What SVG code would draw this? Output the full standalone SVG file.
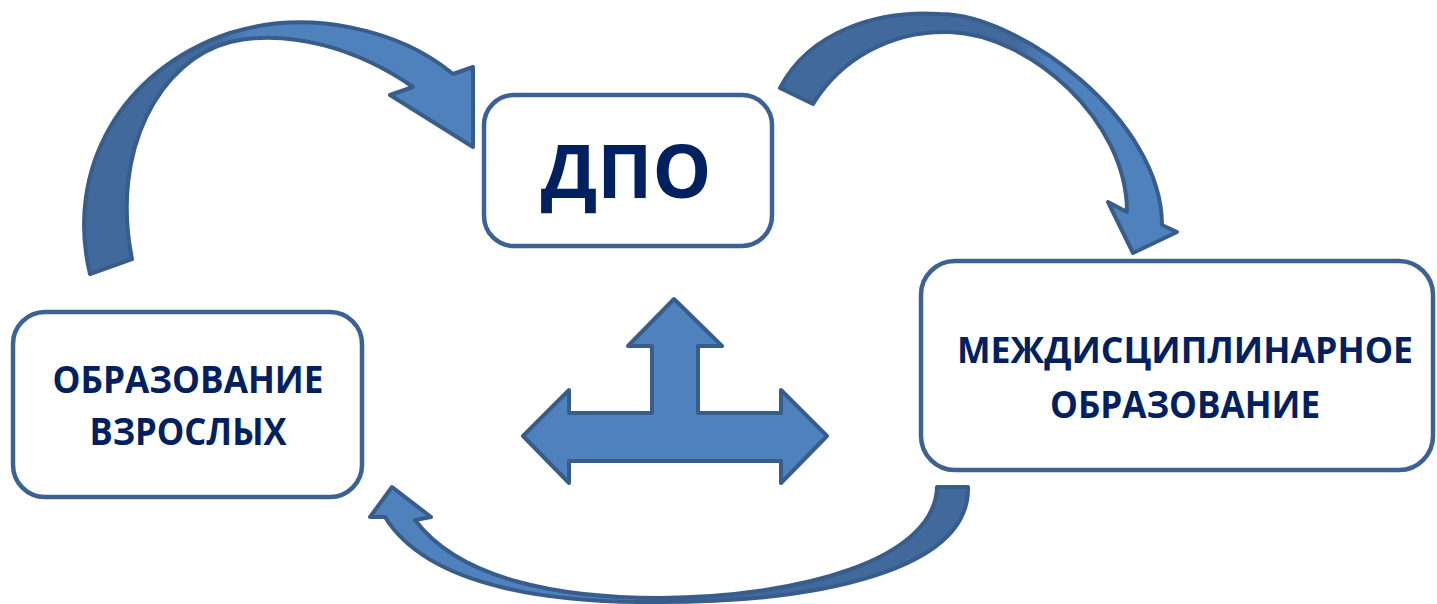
<svg xmlns="http://www.w3.org/2000/svg" width="1437" height="604" viewBox="0 0 1437 604">
<style>
.box{fill:#fff;stroke:#3C6293;stroke-width:4.5}
.arr{stroke:#385D8A;stroke-width:4;stroke-linejoin:round}
.lbl{font-family:"Open Sans","DejaVu Sans",sans-serif;font-weight:bold;fill:#002060;text-anchor:middle}
</style>
<defs>
<linearGradient id="gTL" gradientUnits="userSpaceOnUse" x1="215" y1="0" x2="250" y2="0">
<stop offset="0" stop-color="#41699B"/><stop offset="1" stop-color="#4F81BD"/>
</linearGradient>
<linearGradient id="gTR" gradientUnits="userSpaceOnUse" x1="1015" y1="0" x2="1050" y2="0">
<stop offset="0" stop-color="#41699B"/><stop offset="1" stop-color="#4F81BD"/>
</linearGradient>
<linearGradient id="gB" gradientUnits="userSpaceOnUse" x1="680" y1="0" x2="630" y2="0">
<stop offset="0" stop-color="#41699B"/><stop offset="1" stop-color="#4F81BD"/>
</linearGradient>
</defs>
<g id="connectors">
<path class="arr" fill="url(#gTL)" d="M90,274 C65,170 120,70 230,33 C310,8 400,30 453,74 L473,67 L473,147 L390,95 L413,87 C360,50 290,28 230,42 C160,60 110,150 132,259 Z"/>
<path class="arr" fill="url(#gTR)" d="M780,88 C810,30 880,10 940,14 C1020,14 1162,120 1162,225 L1177,232 L1133,253 L1108,202 L1127,212 C1127,120 1030,35 950,32 C890,30 840,60 813,104 Z"/>
<path class="arr" fill="url(#gB)" d="M937,487 C935,560 800,597 660,598 C560,598 460,580 415,520 L431,517 L392,487 L370,517 L385,517 C430,590 560,603 660,602 C820,602 970,570 968,487 Z"/>
<path class="arr" fill="#4F81BD" d="M674,299 L722,346 L698,346 L698,413 L781,413 L781,390 L827,436 L781,483 L781,461 L569,461 L569,483 L523,436 L569,390 L569,413 L652,413 L652,346 L628,346 Z"/>
</g>
<g id="node-dpo">
<rect class="box" x="484" y="95" width="288" height="151" rx="30"/>
<text class="lbl" x="626" y="198" font-size="74">ДПО</text>
</g>
<g id="node-adult">
<rect class="box" x="13" y="312" width="349" height="185" rx="32"/>
<text class="lbl" x="188" y="393" font-size="37" textLength="271" lengthAdjust="spacingAndGlyphs">ОБРАЗОВАНИЕ</text>
<text class="lbl" x="188" y="445" font-size="37" textLength="197" lengthAdjust="spacingAndGlyphs">ВЗРОСЛЫХ</text>
</g>
<g id="node-inter">
<rect class="box" x="921" y="261" width="512" height="209" rx="34"/>
<text class="lbl" x="1185" y="363" font-size="36" textLength="456" lengthAdjust="spacingAndGlyphs">МЕЖДИСЦИПЛИНАРНОЕ</text>
<text class="lbl" x="1185" y="418" font-size="37" textLength="270" lengthAdjust="spacingAndGlyphs">ОБРАЗОВАНИЕ</text>
</g>
</svg>
